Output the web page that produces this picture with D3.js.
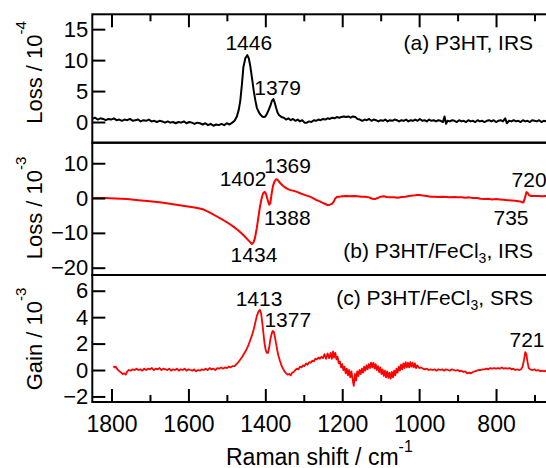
<!DOCTYPE html>
<html>
<head>
<meta charset="utf-8">
<script src="https://cdn.jsdelivr.net/npm/d3@7"></script>
<style>
  body { margin: 0; background: #fff; }
  text { font-family: "Liberation Sans", Arial, Helvetica, sans-serif; fill: #000; }
</style>
</head>
<body>
<div id="chart"></div>
<script>
// (a) P3HT, IRS  -- loss / 1e-4
var wnA = [1850,1843,1836,1829,1822,1815,1808,1801,1794,1787,1780,1773,1766,1759,1752,1745,1738,1731,1724,1717,1710,1703,1696,1689,1682,1675,1668,1661,1654,1647,1640,1633,1626,1619,1612,1605,1598,1591,1584,1577,1570,1563,1556,1549,1542,1535,1528,1521,1514,1507,1500,1493,1486,1480,1474,1469,1465,1461,1457,1452,1447,1443,1439,1434,1430,1426,1422,1417,1413,1408,1404,1400,1396,1391,1387,1383,1379,1375,1372,1368,1364,1358,1352,1346,1340,1334,1328,1322,1316,1310,1304,1298,1292,1286,1280,1274,1268,1262,1256,1250,1244,1238,1232,1226,1220,1214,1208,1202,1196,1190,1184,1178,1172,1166,1160,1154,1148,1142,1136,1130,1124,1118,1112,1106,1100,1094,1088,1082,1076,1070,1064,1058,1052,1046,1040,1034,1028,1022,1016,1010,1004,998,992,986,980,974,968,962,956,950,944,938,934,930,926,920,914,908,902,896,890,884,878,872,866,860,854,848,842,836,830,824,818,812,806,800,794,788,782,776,772,766,760,754,748,742,736,730,724,718,712,706,700,694,688,682,676,670,664,658];
var lossA = [0.5,0.7,0.4,0.6,0.5,0.3,0.5,0.4,0.6,0.3,0.4,0.2,0.4,0.3,0.5,0.2,0.3,0.4,0.1,0.3,0.2,0.4,0.1,0.2,0.0,0.2,0.1,-0.1,0.1,-0.1,0.0,-0.2,0.0,-0.1,0.1,-0.2,0.0,-0.1,-0.3,-0.1,-0.2,-0.4,-0.2,-0.5,-0.3,-0.6,-0.4,-0.5,-0.3,-0.5,-0.2,-0.4,-0.1,0.2,0.9,2.0,3.5,6.0,8.9,10.3,10.8,10.3,9.0,6.8,5.0,3.5,2.3,1.6,1.2,0.9,0.8,0.9,1.3,2.0,2.6,3.4,3.7,3.0,2.3,1.5,1.1,0.8,0.7,0.4,0.6,0.3,0.5,0.2,0.4,0.1,0.3,-0.1,-0.1,0.1,0.0,0.3,0.2,0.4,0.3,0.5,0.4,0.6,0.5,0.7,0.6,0.8,0.7,0.8,0.9,0.8,0.9,0.7,0.9,0.8,0.5,0.4,0.2,0.4,0.3,0.5,0.2,0.4,0.3,0.1,0.3,0.2,0.4,0.1,0.3,0.2,0.4,0.3,0.1,0.3,0.2,0.4,0.1,0.3,0.2,0.4,0.2,0.5,0.2,0.3,0.1,0.4,0.2,0.3,0.1,0.3,0.2,0.0,0.9,-0.3,0.2,0.1,0.3,0.2,0.0,0.3,0.1,0.2,0.0,0.3,0.1,0.2,0.0,0.3,0.1,0.2,0.0,0.2,0.3,0.1,0.3,0.0,0.2,0.3,0.1,0.6,-0.2,0.2,0.1,0.3,0.1,0.2,0.0,0.3,0.1,0.2,0.0,0.3,0.2,0.1,0.3,0.0,0.2,0.1,0.2,0.1];

// (b) P3HT/FeCl3, IRS -- loss / 1e-3
var wnB = [1850,1820,1790,1760,1730,1700,1670,1640,1610,1580,1560,1540,1526,1510,1495,1483,1470,1457,1447,1440,1435,1431,1427,1422,1418,1414,1410,1406,1402,1398,1394,1390,1387,1384,1380,1376,1372,1368,1362,1355,1348,1340,1332,1324,1316,1308,1300,1292,1284,1276,1268,1260,1252,1244,1238,1232,1226,1222,1218,1214,1208,1200,1190,1180,1170,1160,1150,1140,1130,1122,1115,1108,1100,1092,1084,1076,1066,1056,1046,1036,1026,1016,1006,998,990,980,970,960,950,940,930,920,910,900,890,880,870,860,850,840,830,820,810,800,790,780,770,760,750,742,736,732,729,725,721,718,714,708,700,690,680,670,660];
var lossB = [0.0,0.0,-0.1,-0.3,-0.6,-0.9,-1.3,-1.8,-2.3,-2.8,-3.3,-4.4,-5.3,-6.3,-7.3,-8.2,-9.3,-10.6,-11.8,-12.6,-13.2,-12.8,-11.5,-8.5,-5.5,-2.5,-0.3,1.3,1.8,1.2,-0.5,-1.9,-1.5,1.0,3.5,4.8,5.4,5.2,4.4,3.6,3.0,2.5,2.2,2.0,1.7,1.3,1.0,0.7,0.4,0.0,-0.5,-0.9,-1.3,-1.7,-2.0,-1.9,-1.6,-1.0,-0.1,0.3,0.4,0.5,0.6,0.5,0.6,0.5,0.4,0.4,0.2,-0.2,-0.3,0.0,0.4,0.5,0.3,0.2,0.2,0.1,0.3,0.4,0.6,0.7,0.9,0.9,0.7,0.6,0.4,0.4,0.3,0.4,0.3,0.2,0.3,0.2,0.2,0.1,0.2,0.0,0.0,-0.2,-0.3,-0.2,-0.4,-0.3,-0.4,-0.5,-0.6,-0.7,-0.8,-0.9,-1.0,-1.2,-1.3,0.0,1.7,1.5,0.8,0.6,0.6,0.6,0.5,0.6,0.6];

// (c) P3HT/FeCl3, SRS -- gain / 1e-3
var wnC = [1795,1792,1789,1786,1783,1779,1775,1771,1767,1763,1759,1755,1750,1745,1740,1735,1730,1725,1720,1715,1710,1705,1700,1695,1690,1685,1680,1675,1670,1665,1660,1655,1650,1645,1640,1635,1630,1625,1620,1615,1610,1605,1600,1595,1590,1585,1580,1575,1570,1565,1560,1555,1550,1545,1540,1535,1530,1525,1520,1515,1510,1505,1500,1495,1490,1485,1480,1475,1470,1465,1460,1455,1450,1445,1440,1435,1430,1426,1422,1418,1414,1411,1408,1405,1402,1399,1396,1393,1390,1387,1384,1381,1378,1375,1372,1369,1366,1362,1358,1354,1350,1346,1342,1338,1334,1330,1326,1322,1318,1314,1310,1306,1302,1298,1294,1290,1286,1282,1278,1274,1270,1266,1262,1258,1254,1250,1246,1242,1238,1234,1230,1227,1224,1221,1218,1215,1212,1209,1206,1203,1200,1197,1194,1191,1188,1185,1182,1179,1176,1173,1170,1167,1164,1161,1158,1155,1152,1149,1146,1143,1140,1137,1134,1131,1128,1125,1122,1119,1116,1113,1110,1107,1104,1101,1098,1095,1092,1089,1086,1083,1080,1077,1074,1071,1068,1065,1062,1059,1056,1053,1050,1047,1044,1041,1038,1035,1032,1029,1026,1023,1020,1017,1014,1011,1008,1005,1000,995,990,985,980,975,970,965,960,955,950,945,940,935,930,925,920,915,910,905,900,895,890,885,880,875,870,865,860,855,850,845,840,835,830,825,820,815,810,805,800,795,790,785,780,775,770,765,760,755,750,745,740,735,731,727,724,721,718,715,711,705,700,695,690,685,680,675,670,665,660];
var gainC = [0.3,0.2,0.25,0.1,0.0,-0.1,-0.2,-0.3,-0.25,-0.35,-0.1,0.0,-0.05,0.05,0.0,0.1,0.0,0.05,-0.05,0.1,0.0,0.1,0.05,0.15,0.0,0.1,0.05,0.15,0.0,0.1,0.05,0.0,0.1,-0.05,0.05,0.0,0.1,-0.05,0.05,0.0,0.1,-0.05,0.05,0.0,-0.05,0.05,-0.1,0.0,-0.05,0.05,0.0,0.1,0.0,0.15,0.05,0.1,0.0,0.15,0.1,0.2,0.1,0.2,0.15,0.25,0.2,0.3,0.3,0.45,0.6,0.8,1.0,1.25,1.5,1.8,2.2,2.6,3.1,3.6,4.1,4.4,4.55,4.3,3.6,2.8,2.0,1.5,1.3,1.3,1.7,2.3,2.7,2.95,2.9,2.5,2.0,1.5,1.1,0.7,0.35,0.1,-0.1,-0.25,-0.35,-0.3,-0.4,-0.2,-0.15,0.0,0.1,0.05,0.25,0.2,0.35,0.3,0.5,0.4,0.6,0.55,0.7,0.65,0.85,0.8,0.95,0.85,1.0,
  0.9,1.2,0.85,1.25,0.9,1.3,0.85,1.4,0.95,1.3,0.8,1.0,0.5,0.65,0.2,0.45,0.0,0.25,-0.25,0.1,-0.4,0.0,-0.55,-0.1,-0.7,-1.2,-0.3,-0.8,-0.1,-0.45,0.0,-0.3,0.1,-0.2,0.25,-0.05,0.35,0.05,0.45,0.15,0.55,0.2,0.55,0.1,0.45,0.0,0.3,-0.15,0.2,-0.3,0.05,-0.45,-0.05,-0.55,-0.1,-0.6,-0.2,-0.65,-0.15,-0.55,-0.05,-0.4,0.1,-0.2,0.25,-0.05,0.4,0.05,0.5,0.15,0.6,0.2,0.55,0.2,0.6,0.25,0.55,0.2,0.5,0.15,0.35,
  0.15,0.2,0.1,0.05,0.1,0.0,0.05,0.0,0.05,-0.05,0.05,0.0,0.05,-0.05,0.05,0.0,-0.05,0.05,0.0,-0.05,0.0,-0.1,-0.05,-0.15,-0.1,-0.25,-0.2,-0.25,-0.15,-0.1,-0.05,0.0,0.0,0.05,0.05,0.1,0.05,0.15,0.1,0.15,0.1,0.15,0.1,0.2,0.1,0.15,0.1,0.15,0.05,0.1,0.0,0.05,0.0,0.05,0.25,0.8,1.35,1.2,0.6,0.15,0.05,0.0,0.05,-0.05,0.0,-0.1,-0.05,-0.1,-0.05,-0.1,-0.1];

var xMajor = [1800, 1600, 1400, 1200, 1000, 800];
var xMinor = [1700, 1500, 1300, 1100, 900, 700];
var yTicksA = [0, 5, 10, 15];
var yTicksB = [-20, -10, 0, 10];
var yTicksC = [-2, 0, 2, 4, 6];

var W = 546, H = 468;
var left = 92.3, right = 553.7;

var svg = d3.select("#chart").append("svg")
    .attr("width", W)
    .attr("height", H);

var x = d3.scaleLinear().domain([1850, 650]).range([left, right]);

var panels = [
  { wn: wnA, val: lossA, color: "#000", lw: 2, top: 14.3, bottom: 142.7, domain: [-3.34, 17.4], ticks: yTicksA,
    title: "Loss / 10", sup: "-4", titleY: 72.5,
    notes: [ {t: "1446", wn: 1443, v: 11.6}, {t: "1379", wn: 1368, v: 4.4},
             {t: "(a) P3HT, IRS", wn: 703.6, v: 11.7, end: true} ] },
  { wn: wnB, val: lossB, color: "#ff0000", lw: 2, top: 142.7, bottom: 275, domain: [-22.1, 15.9], ticks: yTicksB,
    title: "Loss / 10", sup: "-3", titleY: 208,
    notes: [ {t: "1402", wn: 1458, v: 3.46}, {t: "1369", wn: 1342, v: 7.1},
             {t: "1388", wn: 1343, v: -7.74}, {t: "1434", wn: 1429.5, v: -18.3},
             {t: "735", wn: 761, v: -7.74}, {t: "720", wn: 714, v: 3.26},
             {t: "(b) P3HT/FeCl", sub: "3", after: ", IRS", wn: 703.6, v: -17.3, end: true} ] },
  { wn: wnC, val: gainC, color: "#ff0000", lw: 1.8, top: 275, bottom: 402, domain: [-2.42, 7.19], ticks: yTicksC,
    title: "Gain / 10", sup: "-3", titleY: 339,
    notes: [ {t: "1413", wn: 1416.4, v: 4.84}, {t: "1377", wn: 1341.7, v: 3.28},
             {t: "721", wn: 719.4, v: 1.76},
             {t: "(c) P3HT/FeCl", sub: "3", after: ", SRS", wn: 703.6, v: 4.92, end: true} ] }
];

panels.forEach(function (p, i) {
    var y = d3.scaleLinear().domain(p.domain).range([p.bottom, p.top]);

    svg.append("clipPath").attr("id", "clip" + i)
        .append("rect")
        .attr("x", left).attr("y", p.top)
        .attr("width", right - left).attr("height", p.bottom - p.top);

    var line = d3.line()
        .x(function (d, k) { return x(p.wn[k]); })
        .y(function (d) { return y(d); });

    svg.append("path")
        .datum(p.val)
        .attr("clip-path", "url(#clip" + i + ")")
        .attr("fill", "none")
        .attr("stroke", p.color)
        .attr("stroke-width", p.lw)
        .attr("stroke-linejoin", "round")
        .attr("d", line);

    // y axis, ticks pointing inward
    var ya = svg.append("g")
        .attr("transform", "translate(" + left + ",0)")
        .call(d3.axisLeft(y).tickValues(p.ticks).tickSize(-13).tickPadding(4));
    ya.select(".domain").remove();
    ya.selectAll(".tick line").attr("stroke", "#000").attr("stroke-width", 2);
    ya.selectAll(".tick text").attr("font-size", 22).attr("font-family", null);

    // y title with superscript
    var tt = svg.append("text")
        .attr("transform", "translate(41.5," + p.titleY + ") rotate(-90)")
        .attr("text-anchor", "middle")
        .attr("font-size", 22);
    tt.append("tspan").text(p.title);
    tt.append("tspan").attr("font-size", 15).attr("dy", -16).text(p.sup);

    // annotations
    p.notes.forEach(function (n) {
        var t = svg.append("text")
            .attr("x", x(n.wn))
            .attr("y", y(n.v))
            .attr("text-anchor", n.end ? "end" : "middle")
            .attr("font-size", 21);
        t.append("tspan").text(n.t);
        if (n.sub) {
            t.append("tspan").attr("font-size", 14).attr("dy", 5).text(n.sub);
            t.append("tspan").attr("dy", -5).text(n.after);
        }
    });

    // frame
    svg.append("rect")
        .attr("x", left).attr("y", p.top)
        .attr("width", right - left).attr("height", p.bottom - p.top)
        .attr("fill", "none")
        .attr("stroke", "#000")
        .attr("stroke-width", 2);
});

// top x ticks (no labels)
var topY = panels[0].top;
var xt = svg.append("g").attr("transform", "translate(0," + topY + ")")
    .call(d3.axisTop(x).tickValues(xMajor).tickSize(-13).tickFormat(""));
var xt2 = svg.append("g").attr("transform", "translate(0," + topY + ")")
    .call(d3.axisTop(x).tickValues(xMinor).tickSize(-7).tickFormat(""));

// bottom x axis
var botY = panels[2].bottom;
var xb = svg.append("g").attr("transform", "translate(0," + botY + ")")
    .call(d3.axisBottom(x).tickValues(xMajor).tickSize(-13).tickPadding(14).tickFormat(d3.format("d")));
var xb2 = svg.append("g").attr("transform", "translate(0," + botY + ")")
    .call(d3.axisBottom(x).tickValues(xMinor).tickSize(-7).tickFormat(""));
xb.selectAll(".tick text").attr("font-size", 23).attr("font-family", null);

[xt, xt2, xb, xb2].forEach(function (g) {
    g.select(".domain").remove();
    g.selectAll(".tick line").attr("stroke", "#000").attr("stroke-width", 2);
});

// x title
var xtitle = svg.append("text")
    .attr("x", 226)
    .attr("y", 464.5)
    .attr("font-size", 23);
xtitle.append("tspan").text("Raman shift / cm");
xtitle.append("tspan").attr("font-size", 16).attr("dy", -12.5).text("-1");
</script>
</body>
</html>
